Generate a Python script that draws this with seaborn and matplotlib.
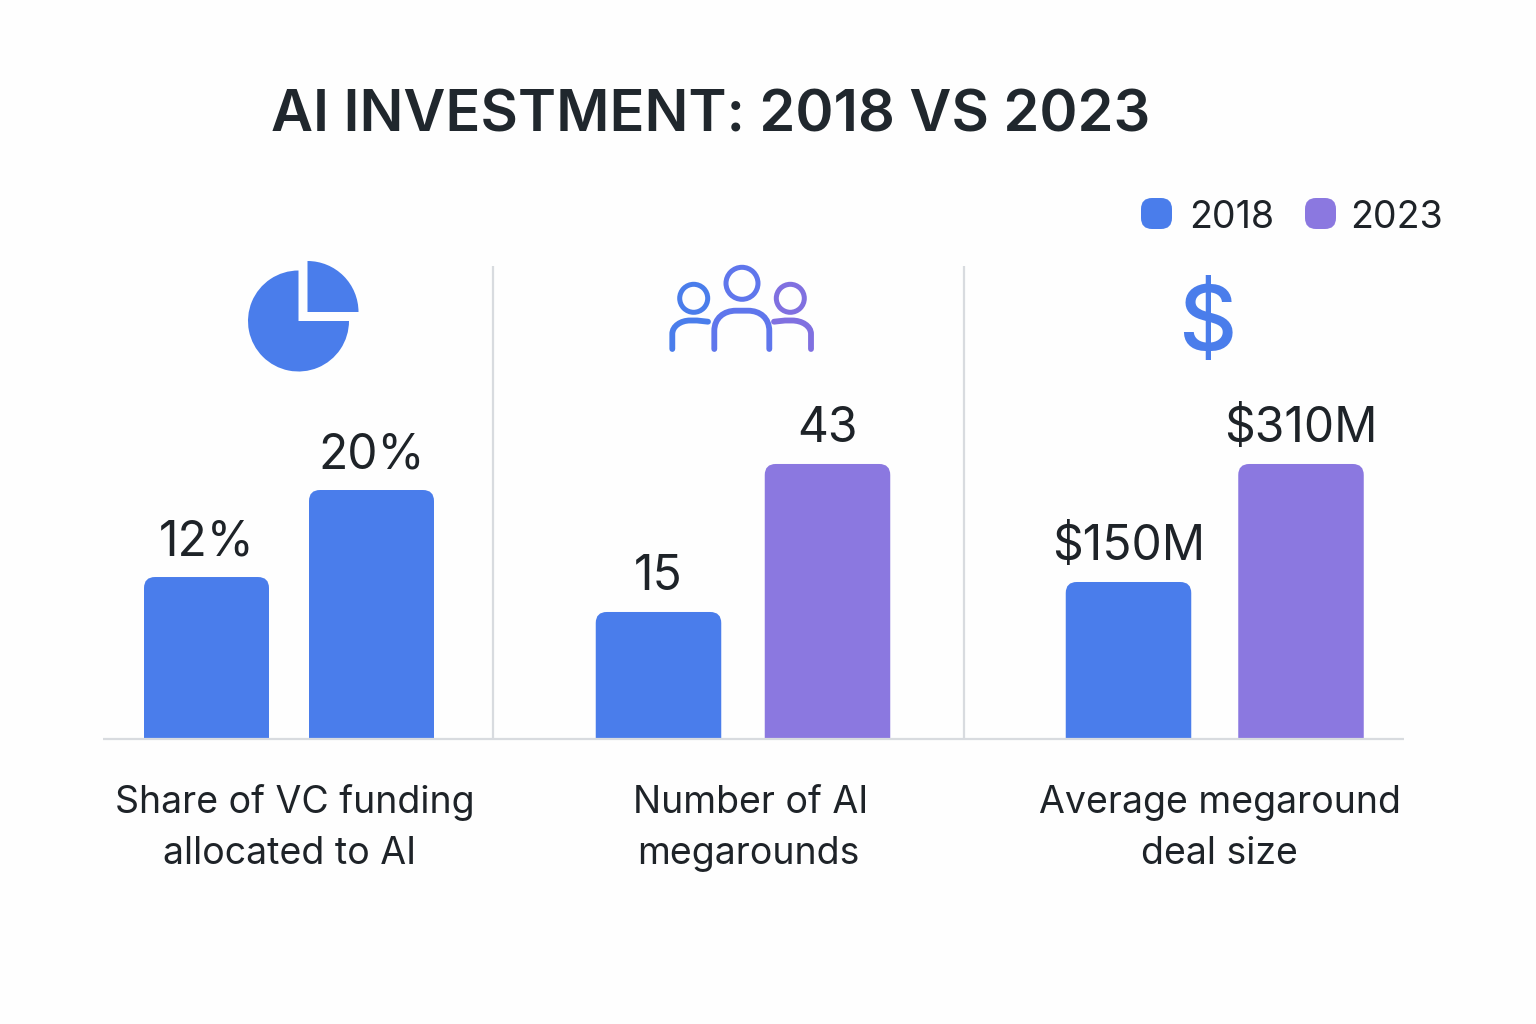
# AI investment comparison, three small bar panels with icons
import matplotlib
matplotlib.use("Agg")
import matplotlib.pyplot as plt
from matplotlib.patches import Wedge, Circle, FancyBboxPatch, PathPatch
from matplotlib.path import Path
import pandas as pd
import seaborn as sns

# --- data ---
years = ["2018", "2023"]
share_values = [12, 20]
rounds_values = [15, 43]
deal_values = [150, 310]
share_labels = ["12%", "20%"]
rounds_labels = ["15", "43"]
deal_labels = ["$150M", "$310M"]
panel_captions = [
    ["Share of VC funding", "allocated to AI"],
    ["Number of AI", "megarounds"],
    ["Average megaround", "deal size"],
]

# --- style ---
BLUE = "#4A7DEB"
PURPLE = "#8B78E0"
MID_BLUE = "#5F76EC"
DEEP_PURPLE = "#8070E0"
TEXT = "#1E2328"
RULE = "#D8DBDF"
W, H = 1536, 1024

sns.set_theme(style="white")
plt.rcParams["font.family"] = ["Inter", "DejaVu Sans"]

fig = plt.figure(figsize=(W / 100, H / 100), dpi=100, facecolor="#FEFEFE")


def add_px_axes(left, top, right, bottom):
    return fig.add_axes([left / W, 1 - bottom / H, (right - left) / W, (bottom - top) / H])


def draw_panel(values, labels, colors, box, floor, px_per_unit, center0, spacing, bar_px):
    left, top, right, bottom = box
    ax = add_px_axes(left, top, right, bottom)
    df = pd.DataFrame({"year": years, "value": values})
    sns.barplot(data=df, x="year", y="value", hue="year", palette=colors,
                width=bar_px / spacing, legend=False, ax=ax)
    ax.set_xlim((left - center0) / spacing, (right - center0) / spacing)
    ax.set_ylim(floor, floor + (bottom - top) / px_per_unit)
    ax.axis("off")
    ax.patch.set_alpha(0)

    # swap the square bars for ones with rounded tops, standing on the panel floor
    aspect = spacing / px_per_unit
    radius = 11 / spacing
    for bar, color, label in zip(list(ax.patches), colors, labels):
        x, w, h = bar.get_x(), bar.get_width(), bar.get_height()
        bar.remove()
        rounded = FancyBboxPatch((x, floor - 20 / px_per_unit), w, h - floor + 20 / px_per_unit,
                                 boxstyle=f"round,pad=0,rounding_size={radius}",
                                 mutation_aspect=aspect, fc=color, ec="none")
        ax.add_patch(rounded)
        ax.annotate(label, (x + w / 2, h), xytext=(0, 35 * 0.72), textcoords="offset points",
                    ha="center", va="center", fontsize=34.5, color=TEXT)
    return ax


draw_panel(share_values, share_labels, [BLUE, BLUE], (103, 266, 493, 738),
           -2.8, 10.877, 206.5, 165, 125)
draw_panel(rounds_values, rounds_labels, [BLUE, PURPLE], (493, 266, 964, 738),
           -8.84, 5.286, 658.5, 169, 125.5)
draw_panel(deal_values, deal_labels, [BLUE, PURPLE], (964, 266, 1404, 738),
           -61.5, 0.7376, 1128.5, 172.5, 125.5)

# overlay in image pixels for rules, icons, legend and captions
ov = fig.add_axes([0, 0, 1, 1], zorder=5)
ov.set_xlim(0, W)
ov.set_ylim(H, 0)
ov.axis("off")
ov.patch.set_alpha(0)

ov.plot([103, 1404], [738.5, 738.5], color=RULE, lw=1.6, solid_capstyle="butt")
for sep_x in [493, 964]:
    ov.plot([sep_x, sep_x], [266, 738], color=RULE, lw=1.6, solid_capstyle="butt")

ov.text(711, 116, "AI INVESTMENT: 2018 VS 2023", ha="center", va="center",
        fontsize=41.6, fontweight="semibold", color="#20272D")

# legend
for sw_x, color, year, text_x in zip([1141, 1305], [BLUE, PURPLE], years, [1232, 1396.5]):
    ov.add_patch(FancyBboxPatch((sw_x, 198), 31, 31, boxstyle="round,pad=0,rounding_size=11",
                                fc=color, ec="none"))
    ov.text(text_x, 218, year, ha="center", va="center", fontsize=27, color=TEXT)

# pie icon
ov.add_patch(Wedge((298.5, 321), 50.5, 0, 270, fc=BLUE, ec="none"))
ov.add_patch(Wedge((307.5, 312), 51, 270, 360, fc=BLUE, ec="none"))

# people icon
C4 = Path.CURVE4
MT, LT = Path.MOVETO, Path.LINETO
head_spec = [(693.7, 298.3, 14, BLUE), (742, 283.3, 16, MID_BLUE), (790.3, 298.3, 14, DEEP_PURPLE)]
for cx, cy, r, color in head_spec:
    ov.add_patch(Circle((cx, cy), r, fc="none", ec=color, lw=3.6))
shoulders = [
    ([(672.3, 349), (672.3, 334), (672.3, 326), (681, 320.5), (690, 320.5), (697, 320.5), (708, 321.7)],
     [MT, LT, C4, C4, C4, LT, LT], BLUE),
    ([(714.3, 349), (714.3, 331), (714.3, 318), (724, 310.7), (736, 310.7), (748, 310.7),
      (760, 310.7), (769.3, 318), (769.3, 331), (769.3, 349)],
     [MT, LT, C4, C4, C4, LT, C4, C4, C4, LT], MID_BLUE),
    ([(774, 321.7), (785, 320.5), (792, 320.5), (802, 320.5), (811, 326), (811, 334), (811, 349)],
     [MT, LT, LT, C4, C4, C4, LT], DEEP_PURPLE),
]
for pts, path_codes, color in shoulders:
    ov.add_patch(PathPatch(Path(pts, path_codes), fc="none", ec=color, lw=4.2, capstyle="round"))

# dollar icon
ov.text(1207, 327, "$", ha="center", va="center", fontsize=65, fontweight="medium", color=BLUE)

# captions under the bars
caption_x = [(295, 290), (751, 748), (1220, 1219)]
for lines, xs in zip(panel_captions, caption_x):
    for line, x, y in zip(lines, xs, [803, 854]):
        ov.text(x, y, line, ha="center", va="center", fontsize=27, color=TEXT)

fig.savefig("out.png", dpi=100, facecolor=fig.get_facecolor())
